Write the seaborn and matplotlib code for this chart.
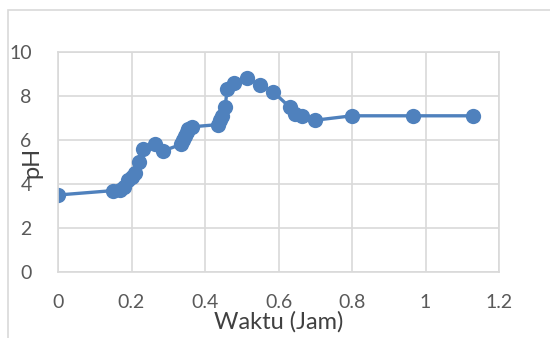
"""pH vs waktu (jam) line chart, Excel style"""
import matplotlib as mpl
mpl.use("Agg")
import matplotlib.pyplot as plt
import seaborn as sns
import pandas as pd
from matplotlib.patches import Rectangle

waktu = [0, 0.15, 0.17, 0.18, 0.19, 0.20, 0.21, 0.22, 0.23, 0.265, 0.285,
         0.335, 0.34, 0.345, 0.35, 0.355, 0.365, 0.435, 0.44, 0.445, 0.455,
         0.46, 0.48, 0.515, 0.55, 0.585, 0.63, 0.645, 0.665, 0.70, 0.80,
         0.965, 1.13]
ph = [3.5, 3.7, 3.75, 3.85, 4.2, 4.3, 4.5, 5.0, 5.6, 5.8, 5.5,
      5.8, 6.0, 6.2, 6.35, 6.5, 6.6, 6.7, 6.9, 7.1, 7.5,
      8.3, 8.6, 8.8, 8.5, 8.2, 7.5, 7.2, 7.1, 6.9, 7.1,
      7.1, 7.1]
xticks = [0, 0.2, 0.4, 0.6, 0.8, 1, 1.2]
xticklabels = ["0", "0.2", "0.4", "0.6", "0.8", "1", "1.2"]
yticks = [0, 2, 4, 6, 8, 10]

df = pd.DataFrame({"Waktu": waktu, "pH": ph})

sns.set_style("white")
plt.rcParams['font.family'] = ['Lato', 'DejaVu Sans']

blue = "#4F81BD"
grid = "#D9D9D9"
txt = "#595959"

fig = plt.figure(figsize=(5.5, 3.38), dpi=100)
ax = fig.add_axes([58/550, 1 - 272/338, 441/550, 220/338])

sns.lineplot(data=df, x="Waktu", y="pH", sort=False, color=blue, lw=2.4,
             marker="o", markersize=11, markeredgewidth=0, ax=ax)

ax.set_xlim(0, 1.2)
ax.set_ylim(0, 10)
ax.set_xticks(xticks)
ax.set_xticklabels(xticklabels)
ax.set_yticks(yticks)
ax.grid(True, color=grid, lw=1.2)
ax.set_axisbelow(True)
for s in ax.spines.values():
    s.set_color(grid)
    s.set_linewidth(1.2)
ax.tick_params(length=0, labelsize=14, labelcolor=txt)
ax.tick_params(axis="x", pad=16)
ax.tick_params(axis="y", pad=19)

ax.set_xlabel("Waktu (Jam)", fontsize=17, color="#404040", labelpad=0)
ax.set_ylabel("pH", fontsize=17, color="#404040")
ax.yaxis.set_label_coords(-0.035, 0.5)

# chart area border
fig.patches.append(Rectangle((8/550, -0.1), 1.2, 1 - 10/338 + 0.1,
                             transform=fig.transFigure, fill=False,
                             edgecolor=grid, lw=1.2))

fig.savefig("out.png", dpi=100)
